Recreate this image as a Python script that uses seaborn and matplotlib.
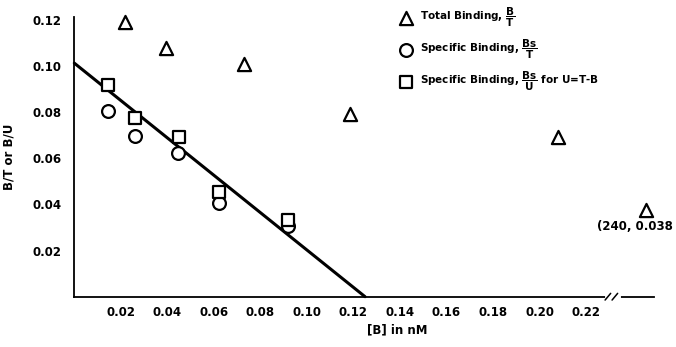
import numpy as np
import pandas as pd
import matplotlib
matplotlib.use("Agg")
import matplotlib.pyplot as plt
import seaborn as sns

# ---- data ----
total_x = [0.0219, 0.0394, 0.0728, 0.1186, 0.2078, 0.2458]   # last one drawn past the axis break
total_y = [0.1193, 0.1078, 0.1008, 0.0792, 0.0694, 0.0376]
spec_t_x = [0.0146, 0.0262, 0.0447, 0.0621, 0.0920]
spec_t_y = [0.0806, 0.0697, 0.0622, 0.0405, 0.0307]
spec_u_x = [0.0146, 0.0260, 0.0450, 0.0623, 0.0920]
spec_u_y = [0.0918, 0.0774, 0.0692, 0.0456, 0.0333]
fit_x = [0.0, 0.125]
fit_y = [0.1013, 0.0]

xticks = [0.02, 0.04, 0.06, 0.08, 0.10, 0.12, 0.14, 0.16, 0.18, 0.20, 0.22]
xticklabels = ["0.02", "0.04", "0.06", "0.08", "0.10", "0.12", "0.14", "0.16", "0.18", "0.20", "0.22"]
yticks = [0.02, 0.04, 0.06, 0.08, 0.10, 0.12]
yticklabels = ["0.02", "0.04", "0.06", "0.08", "0.10", "0.12"]

legend_labels = [
    r"Total Binding, $\dfrac{\mathbf{B}}{\mathbf{T}}$",
    r"Specific Binding, $\dfrac{\mathbf{Bs}}{\mathbf{T}}$",
    r"Specific Binding, $\dfrac{\mathbf{Bs}}{\mathbf{U}}$ for U=T-B",
]
outlier_label = "(240, 0.038"

sns.set_theme(style="white")
plt.rcParams["font.family"] = ["DejaVu Sans"]
plt.rcParams["font.weight"] = "bold"
plt.rcParams["mathtext.fontset"] = "dejavusans"
plt.rcParams["text.color"] = "black"

W, H = 676, 347
fig = plt.figure(figsize=(W / 100, H / 100), dpi=100)
x0px, y0px = 74.3, 296.7
xscale, yscale = 2326.0, 2305.8
ax_left = x0px / W
ax_bottom = 1 - y0px / H
ax_w = (W - x0px) / W
ax_h = (y0px - 17.0) / H
ax = fig.add_axes([ax_left, ax_bottom, ax_w, ax_h])
ax.set_xlim(0, (W - x0px) / xscale)
ax.set_ylim(0, (y0px - 17.0) / yscale)

df_t = pd.DataFrame({"x": total_x, "y": total_y})
df_s = pd.DataFrame({"x": spec_t_x, "y": spec_t_y})
df_u = pd.DataFrame({"x": spec_u_x, "y": spec_u_y})
df_f = pd.DataFrame({"x": fit_x, "y": fit_y})

sns.lineplot(data=df_f, x="x", y="y", ax=ax, color="black", linewidth=2.2, clip_on=False)
kw = dict(facecolor="white", edgecolor="black", linewidth=1.6, clip_on=False, zorder=3)
sns.scatterplot(data=df_t, x="x", y="y", ax=ax, marker="^", s=90, label=legend_labels[0], **kw)
sns.scatterplot(data=df_s, x="x", y="y", ax=ax, marker="o", s=85, label=legend_labels[1], **kw)
sns.scatterplot(data=df_u, x="x", y="y", ax=ax, marker="s", s=70, label=legend_labels[2], **kw)

ax.annotate(outlier_label, xy=(total_x[-1], total_y[-1]), xytext=(-49, -16),
            textcoords="offset pixels", fontsize=8.5, fontweight="bold", ha="left", va="center",
            color="black", annotation_clip=False)

for s in ["top", "right"]:
    ax.spines[s].set_visible(False)
for s in ["left", "bottom"]:
    ax.spines[s].set_color("black")
    ax.spines[s].set_linewidth(1.3)
break_x = (613 - x0px) / xscale
end_x = (654 - x0px) / xscale
ax.spines["bottom"].set_bounds(0, end_x)

# axis break marks
tr = ax.get_xaxis_transform()
ax.plot([break_x - 0.0025, break_x + 0.0025], [0, 0], transform=tr, color="white",
        linewidth=3, clip_on=False, zorder=4)
for dx in (-0.0022, 0.0008):
    ax.plot([break_x + dx - 0.0012, break_x + dx + 0.0012], [-0.012, 0.012], transform=tr,
            color="black", linewidth=1.1, clip_on=False, zorder=5)

ax.set_xticks(xticks)
ax.set_xticklabels(xticklabels)
ax.set_yticks(yticks)
ax.set_yticklabels(yticklabels)
ax.tick_params(axis="x", direction="in", length=4, width=1.1, pad=7, labelsize=8.5, colors="black")
ax.tick_params(axis="y", direction="out", length=4, width=1.1, pad=5, labelsize=8.5, colors="black")
for lab in ax.get_xticklabels() + ax.get_yticklabels():
    lab.set_fontweight("bold")

ax.set_xlabel("[B] in nM", fontsize=8.5, fontweight="bold", color="black")
ax.set_ylabel("B/T or B/U", fontsize=8.5, fontweight="bold", color="black")
ax.xaxis.set_label_coords((397 - x0px) / (W - x0px), -0.095)
ax.yaxis.set_label_coords(-0.097, 0.5)

leg = ax.legend(loc="upper left", bbox_to_anchor=(400 / W, 1 - 6 / H), bbox_transform=fig.transFigure,
                frameon=False, fontsize=7.5, borderpad=0, labelspacing=0.85, handletextpad=0.7,
                handlelength=1.2, borderaxespad=0)
for t in leg.get_texts():
    t.set_fontweight("bold")
    t.set_color("black")

fig.savefig("out.png", dpi=100)
